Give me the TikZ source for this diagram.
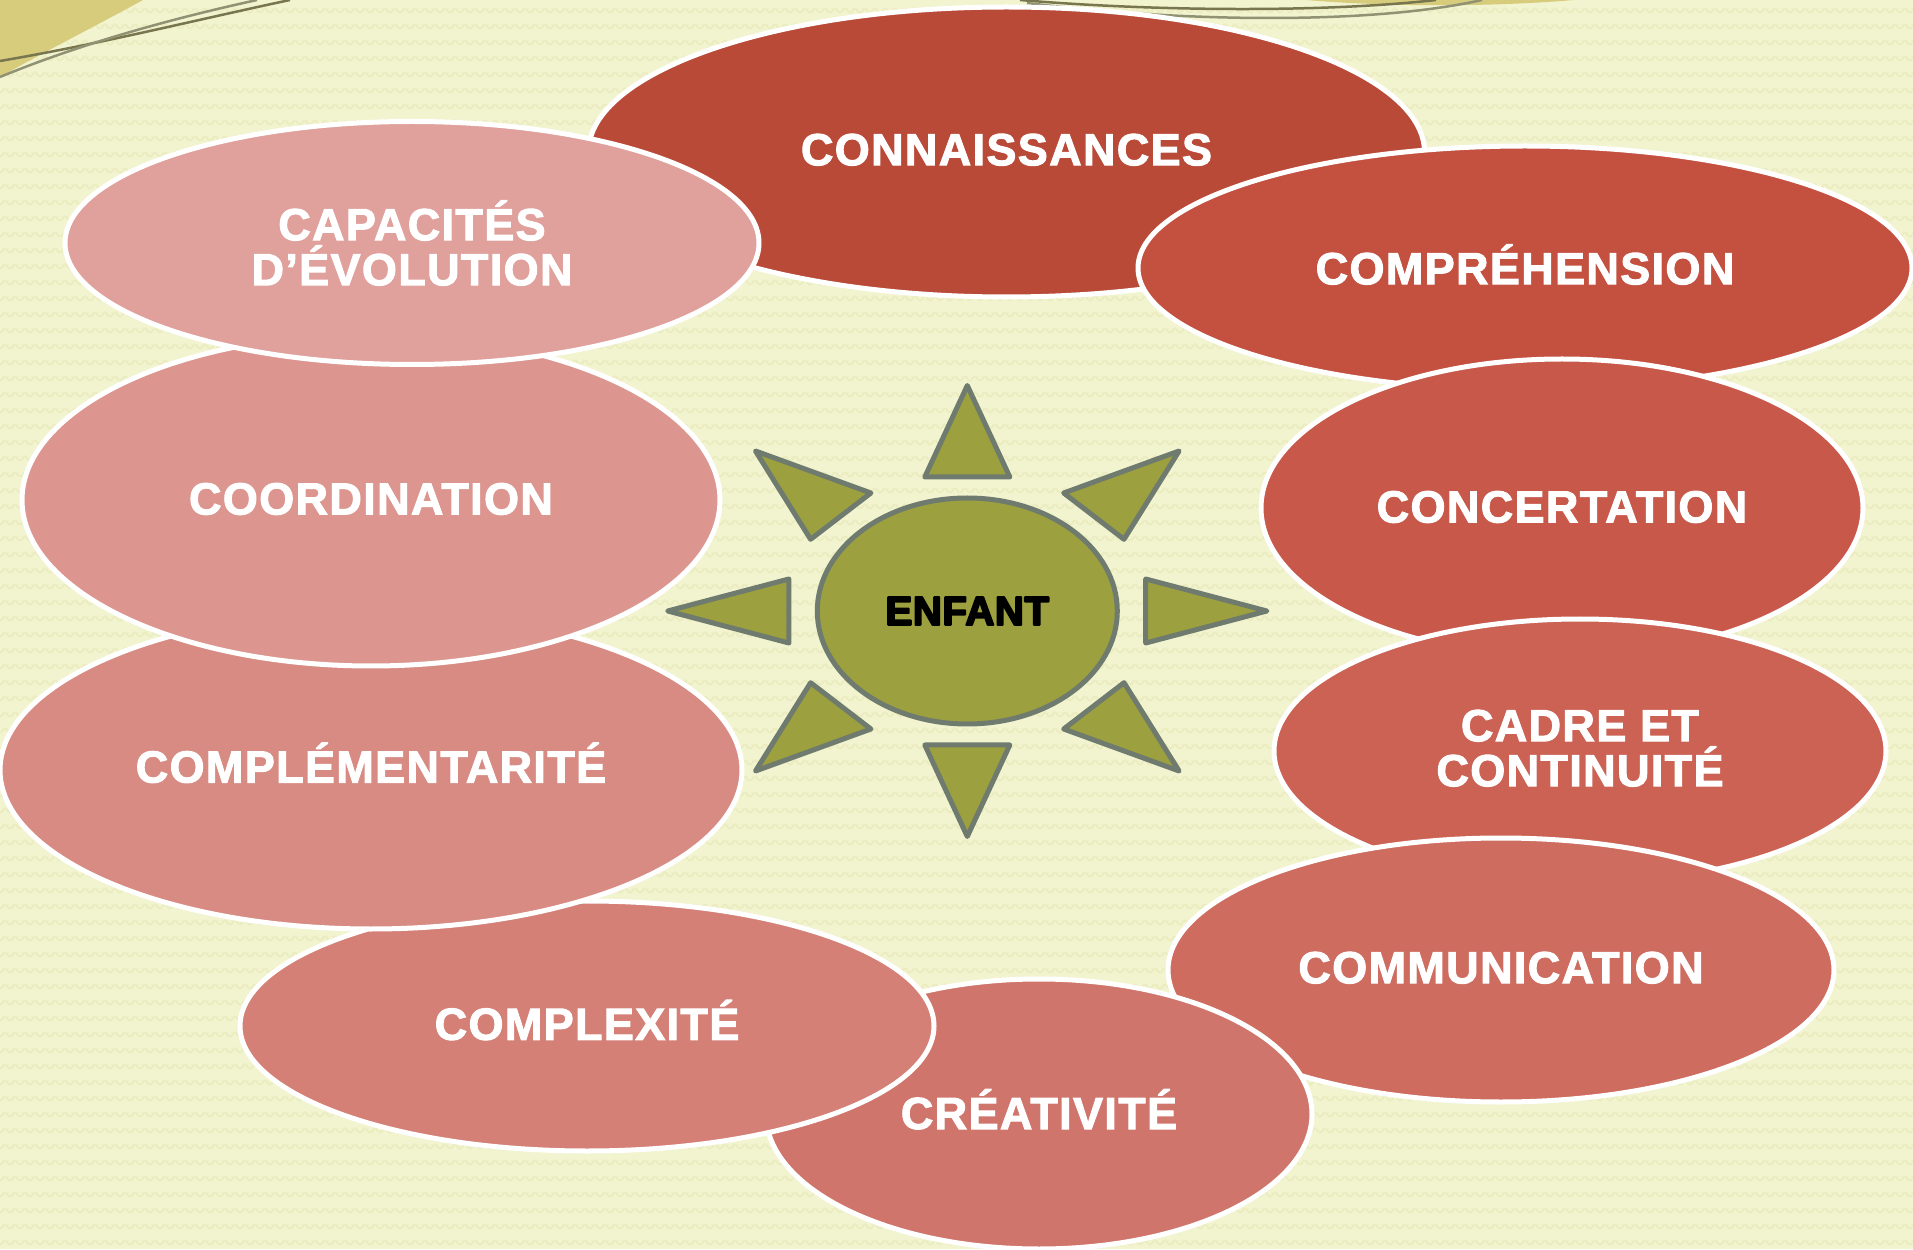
\documentclass[tikz,border=0pt]{standalone}
\usepackage{fontspec}
\setmainfont{Liberation Sans}
\newfontfamily\labelfont[FakeBold=2.2,LetterSpace=3]{Liberation Sans Bold}
\newfontfamily\enfantfont[FakeBold=4.5,LetterSpace=1]{Liberation Sans Bold}
\usetikzlibrary{shapes.geometric, patterns}
\definecolor{pagebg}{RGB}{242, 243, 207}
\definecolor{wavebg}{RGB}{235, 237, 192}
\definecolor{wedgegold}{RGB}{214, 204, 124}
\definecolor{wirea}{RGB}{120, 118, 78}
\definecolor{wireb}{RGB}{145, 145, 115}
\definecolor{sunfill}{RGB}{156, 160, 62}
\definecolor{sunline}{RGB}{111, 123, 110}
\definecolor{bulla}{RGB}{186, 74, 56}
\definecolor{bullb}{RGB}{196, 80, 64}
\definecolor{bullc}{RGB}{200, 89, 74}
\definecolor{bulld}{RGB}{203, 98, 84}
\definecolor{bulle}{RGB}{206, 108, 96}
\definecolor{bullf}{RGB}{208, 117, 107}
\definecolor{bullg}{RGB}{212, 128, 118}
\definecolor{bullh}{RGB}{216, 139, 130}
\definecolor{bulli}{RGB}{220, 150, 143}
\definecolor{bullj}{RGB}{224, 160, 156}
\pgfdeclarepatternformonly{wavetile}{\pgfqpoint{0pt}{0pt}}{\pgfqpoint{2.845pt}{4.41pt}}{\pgfqpoint{2.845pt}{4.41pt}}{
  \pgfsetlinewidth{0.55pt}
  \pgfpathmoveto{\pgfqpoint{0pt}{1.6pt}}
  \pgfpathcurveto{\pgfqpoint{0.7pt}{1.6pt}}{\pgfqpoint{0.8pt}{2.8pt}}{\pgfqpoint{1.42pt}{2.8pt}}
  \pgfpathcurveto{\pgfqpoint{2.05pt}{2.8pt}}{\pgfqpoint{2.15pt}{1.6pt}}{\pgfqpoint{2.845pt}{1.6pt}}
  \pgfusepath{stroke}
}
\tikzset{
  bubble/.style={ellipse, draw=white, line width=0.05cm, inner sep=0pt, text=white, align=center,
    font=\labelfont\fontsize{12.8}{12.8}\selectfont},
  ray/.style={draw=sunline, fill=sunfill, line width=0.05cm, line join=round},
  wire/.style={line width=0.025cm}
}
\begin{document}
\begin{tikzpicture}
  \useasboundingbox (0,0) rectangle (19.13,12.49);
  % Background
  \fill[pagebg] (0,0) rectangle (19.13,12.49);
  \fill[pattern=wavetile, pattern color=wavebg] (0,0) rectangle (19.13,12.49);

  % Corner decoration
  \fill[wedgegold] (0,12.49) -- (1.43,12.49) .. controls (0.9,12.2) and (0.4,11.95) .. (0,11.72) -- cycle;
  \fill[wedgegold] (13.06,12.49) -- (15.74,12.49) .. controls (14.9,12.42) and (13.9,12.42) .. (13.06,12.49) -- cycle;
  \draw[wire, wirea] (0,11.88) .. controls (1,12.05) and (2,12.3) .. (2.9,12.49);
  \draw[wire, wireb] (0,11.72) .. controls (0.8,12.05) and (1.7,12.3) .. (2.57,12.49);
  \draw[wire, wirea] (10.2,12.49) .. controls (11.5,12.38) and (13.2,12.36) .. (14.36,12.49);
  \draw[wire, wireb] (10.27,12.46) .. controls (11.8,12.27) and (13.7,12.24) .. (14.82,12.49);

  % Bubbles
  \node[bubble, fill=bulla, minimum width=8.36cm, minimum height=2.9cm, text depth=1.4pt] (connaissances) at (10.065, 10.97) {CONNAISSANCES};
  \node[bubble, fill=bullb, minimum width=7.74cm, minimum height=2.44cm, text depth=2.1pt] (comprehension) at (15.25, 9.81) {COMPRÉHENSION};
  \node[bubble, fill=bullc, minimum width=6.02cm, minimum height=2.98cm, text depth=0.7pt] (concertation) at (15.62, 7.41) {CONCERTATION};
  \node[bubble, fill=bulld, minimum width=6.12cm, minimum height=2.64cm, text depth=1.7pt] (cadre) at (15.80, 4.98) {CADRE ET\\CONTINUITÉ};
  \node[bubble, fill=bulle, minimum width=6.66cm, minimum height=2.64cm, text depth=1.4pt] (communication) at (15.01, 2.79) {COMMUNICATION};
  \node[bubble, fill=bullf, minimum width=5.46cm, minimum height=2.7cm, text depth=2.8pt] (creativite) at (10.39, 1.35) {CRÉATIVITÉ};
  \node[bubble, fill=bullg, minimum width=6.94cm, minimum height=2.5cm, text depth=3.5pt] (complexite) at (5.87, 2.23) {COMPLEXITÉ};
  \node[bubble, fill=bullh, minimum width=7.42cm, minimum height=3.18cm, text depth=4.2pt] (complementarite) at (3.71, 4.79) {COMPLÉMENTARITÉ};
  \node[bubble, fill=bulli, minimum width=6.98cm, minimum height=3.32cm, text depth=0.7pt] (coordination) at (3.71, 7.49) {COORDINATION};
  \node[bubble, fill=bullj, minimum width=6.94cm, minimum height=2.43cm] (capacites) at (4.12, 10.06) {CAPACITÉS\\D’ÉVOLUTION};

  % Sun
  \node[ellipse, ray, minimum width=3.0cm, minimum height=2.26cm, inner sep=0pt, font=\enfantfont\fontsize{11.5}{11.5}\selectfont] (enfant) at (9.673, 6.38) {ENFANT};
  \begin{scope}[shift={(enfant.center)}]
    \foreach \sy in {1,-1} {
      \draw[ray] (0,{\sy*2.255}) -- (0.425,{\sy*1.34}) -- (-0.425,{\sy*1.34}) -- cycle;
      \foreach \sx in {1,-1}
        \draw[ray] ({\sx*2.118},{\sy*1.6}) -- ({\sx*0.964},{\sy*1.18}) -- ({\sx*1.567},{\sy*0.717}) -- cycle;
    }
    \foreach \sx in {1,-1}
      \draw[ray] ({\sx*2.996},0) -- ({\sx*1.784},0.32) -- ({\sx*1.784},-0.32) -- cycle;
  \end{scope}
\end{tikzpicture}
\end{document}
